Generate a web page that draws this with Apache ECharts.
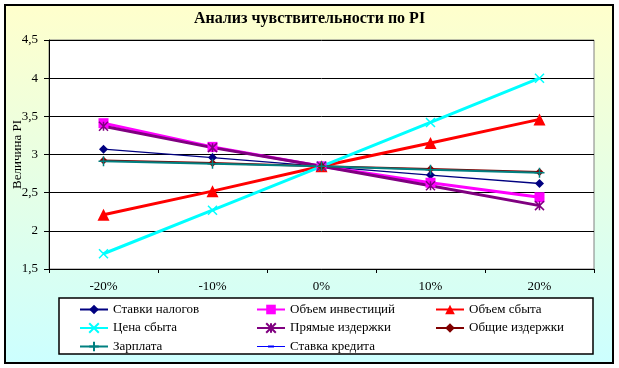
<!DOCTYPE html>
<html><head><meta charset="utf-8">
<script src="https://cdn.jsdelivr.net/npm/echarts@6/dist/echarts.min.js"></script>
<style>html,body{margin:0;padding:0;background:#fff}#c{width:619px;height:368px}</style>
</head><body><div id="c"></div>
<script>
var categories = ['-20%', '-10%', '0%', '10%', '20%'];
var taxRates     = [3.07, 2.96, 2.845, 2.73, 2.62];
var investVolume = [3.41, 3.10, 2.845, 2.63, 2.44];
var salesVolume  = [2.21, 2.52, 2.845, 3.15, 3.46];
var salesPrice   = [1.70, 2.27, 2.845, 3.42, 4.00];
var directCosts  = [3.37, 3.09, 2.845, 2.59, 2.33];
var generalCosts = [2.92, 2.89, 2.845, 2.81, 2.77];
var salary       = [2.91, 2.88, 2.845, 2.80, 2.76];
var creditRate   = [null, null, null, null, null];
var yTicks = [1.5, 2, 2.5, 3, 3.5, 4, 4.5];

var F = '"Liberation Serif", "Times New Roman", serif';
var xPath = 'path://M0,0L10,10M10,0L0,10';
var starPath = 'path://M0,0L10,10M10,0L0,10M5,0L5,10';
var plusPath = 'path://M5,0L5,10M0,5L10,5';
var dashPath = 'path://M0,0L10,0L10,2L0,2Z';
var creditIcon = 'path://M0,0M28,12M0,5.5L28,5.5L28,6.5L0,6.5ZM11,5L17,5L17,7L11,7Z';

function mk(name, data, color, width, symbol, size, strokeSym) {
  return {
    name: name, type: 'line', data: data, symbol: symbol, symbolSize: size,
    showSymbol: true, connectNulls: false, symbolKeepAspect: true,
    lineStyle: { color: color, width: width },
    itemStyle: strokeSym ? { color: color, borderColor: color, borderWidth: 1.5 } : { color: color, borderWidth: 0 },
    emphasis: { disabled: true }
  };
}

var series = [
  mk('Ставки налогов', taxRates, '#000080', 1.3, 'diamond', 9),
  mk('Объем инвестиций', investVolume, '#FF00FF', 3, 'rect', 10),
  mk('Объем сбыта', salesVolume, '#FF0000', 3, 'triangle', 12),
  mk('Цена сбыта', salesPrice, '#00FFFF', 3, xPath, 9, true),
  mk('Прямые издержки', directCosts, '#800080', 3, starPath, 9, true),
  mk('Общие издержки', generalCosts, '#800000', 2, 'diamond', 8),
  mk('Зарплата', salary, '#008080', 2, plusPath, 10, true),
  mk('Ставка кредита', creditRate, '#0000FF', 1, dashPath, [7, 2])
];

function legendCol(left, names) {
  return {
    orient: 'vertical', left: left, top: 303, itemGap: 5.5, itemWidth: 28, itemHeight: 12,
    data: names, selectedMode: false, padding: 0,
    textStyle: { fontFamily: F, fontSize: 13, fontWeight: 'normal', color: '#000' }
  };
}

var chart = echarts.init(document.getElementById('c'), null, { renderer: 'canvas' });
chart.setOption({
  animation: false,
  backgroundColor: '#fff',
  title: {
    text: 'Анализ чувствительности по PI', left: 'center', top: 6,
    textStyle: { fontFamily: F, fontSize: 16, fontWeight: 'bold', color: '#000' }
  },
  graphic: [
    { type: 'rect', z: -10, shape: { x: 5, y: 5, width: 608, height: 358 },
      style: { fill: new echarts.graphic.LinearGradient(0, 0, 0, 1, [
        { offset: 0, color: '#FFFFCC' }, { offset: 1, color: '#CCFFFF' }]),
        stroke: '#000', lineWidth: 2 } },
    { type: 'rect', z: -5, shape: { x: 59, y: 298, width: 534, height: 56 },
      style: { fill: '#fff', stroke: '#000', lineWidth: 1.5 } }
  ],
  legend: [
    legendCol(79, ['Ставки налогов', 'Цена сбыта', 'Зарплата']),
    legendCol(256, ['Объем инвестиций', 'Прямые издержки', { name: 'Ставка кредита', icon: creditIcon }]),
    legendCol(435, ['Объем сбыта', 'Общие издержки'])
  ],
  grid: { left: 49, right: 25, top: 40, bottom: 99, show: true, backgroundColor: '#fff',
    borderColor: '#808080', borderWidth: 1, containLabel: false, outerBoundsMode: 'none' },
  xAxis: {
    type: 'category', data: categories, boundaryGap: true,
    axisLine: { lineStyle: { color: '#000', width: 1 } },
    axisTick: { show: true, alignWithLabel: false, length: 4, lineStyle: { color: '#000' } },
    axisLabel: { fontFamily: F, fontSize: 13, fontWeight: 'normal', color: '#000', margin: 11 },
    splitLine: { show: false }
  },
  yAxis: {
    type: 'value', min: yTicks[0], max: yTicks[yTicks.length - 1], interval: 0.5,
    name: 'Величина PI', nameLocation: 'middle', nameGap: 25, nameRotate: 90, nameMoveOverlap: false,
    nameTextStyle: { fontFamily: F, fontSize: 13, fontWeight: 'normal', color: '#000' },
    axisLine: { show: true, lineStyle: { color: '#000', width: 1 } },
    axisTick: { show: true, length: 5, lineStyle: { color: '#000' } },
    axisLabel: { fontFamily: F, fontSize: 13, fontWeight: 'normal', color: '#000', margin: 11,
      formatter: function (v) { return String(v).replace('.', ','); } },
    splitLine: { show: true, lineStyle: { color: '#000', width: 1 } }
  },
  series: series
});
</script></body></html>
